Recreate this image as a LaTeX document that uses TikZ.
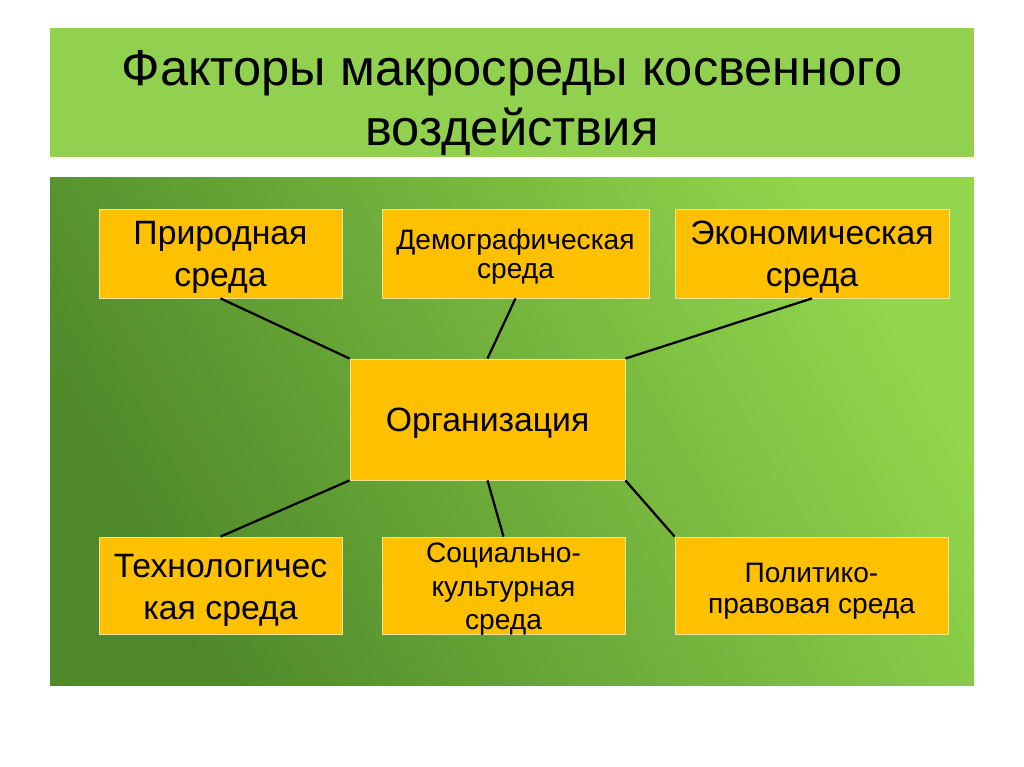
\documentclass[tikz,border=0pt]{standalone}
\usepackage{fontspec}
\setmainfont{Liberation Sans}
\definecolor{barGreen}{RGB}{146,208,80}
\definecolor{darkGreen}{RGB}{78,136,42}
\definecolor{lightGreen}{RGB}{146,214,76}
\definecolor{boxOrange}{RGB}{255,192,0}
\definecolor{boxEdge}{RGB}{240,226,150}
\begin{document}
\begin{tikzpicture}[
    factor/.style={fill=boxOrange, draw=boxEdge, line width=0.6pt, align=center,
      inner sep=1pt, font=\fontsize{24}{30}\selectfont},
    smalltext/.style={font=\fontsize{20}{24}\selectfont},
    link/.style={line width=1.6pt}]
  \useasboundingbox (0,0) rectangle (25.6,19.175);
  \fill[white] (0,0) rectangle (25.6,19.175);

  % title bar and panel
  \fill[barGreen] (1.25,15.25) rectangle (24.35,18.475);
  \shade[bottom color=darkGreen, top color=lightGreen, shading angle=-60]
    (1.25,2.025) rectangle (24.35,14.725);
  \node[align=center, font=\fontsize{36}{42.5}\selectfont] (title) at (12.8,16.6)
    {Факторы макросреды косвенного\\воздействия};

  % upper row
  \node[factor, minimum width=6.075cm, minimum height=2.225cm,
    text height=54.3pt, text depth=6.77pt] (prir) at (5.5125,12.8375)
    {Природная\\среда};
  \node[factor, font=\fontsize{20}{21}\selectfont, minimum width=6.675cm, minimum height=2.225cm,
    text height=48.6pt, text depth=12.47pt] (demo) at (12.8875,12.8375)
    {Демографическая\\среда};
  \node[factor, minimum width=6.85cm, minimum height=2.225cm,
    text height=54.3pt, text depth=6.77pt] (econ) at (20.3,12.8375)
    {Экономическая\\среда};

  % centre
  \node[factor, minimum width=6.875cm, minimum height=3.025cm,
    text height=50.7pt, text depth=33.05pt] (org) at (12.1875,8.6875)
    {Организация};

  % lower row
  \node[factor, minimum width=6.075cm, minimum height=2.425cm,
    text height=57.8pt, text depth=8.94pt] (tech) at (5.5125,4.5375)
    {Технологичес\\кая среда};
  \node[factor, smalltext, minimum width=6.075cm, minimum height=2.425cm,
    text height=64.9pt, text depth=1.84pt] (soc) at (12.5875,4.5375)
    {Социально-\\культурная\\среда};
  \node[factor, font=\fontsize{20}{22}\selectfont, minimum width=6.825cm, minimum height=2.425cm,
    text height=53.4pt, text depth=13.34pt] (pol) at (20.2875,4.5375)
    {Политико-\\правовая среда};

  \draw[link] (prir.south) -- (org.north west);
  \draw[link] (demo.south) -- (org.north);
  \draw[link] (econ.south) -- (org.north east);
  \draw[link] (tech.north) -- (org.south west);
  \draw[link] (soc.north) -- (org.south);
  \draw[link] (pol.north west) -- (org.south east);
\end{tikzpicture}
\end{document}
